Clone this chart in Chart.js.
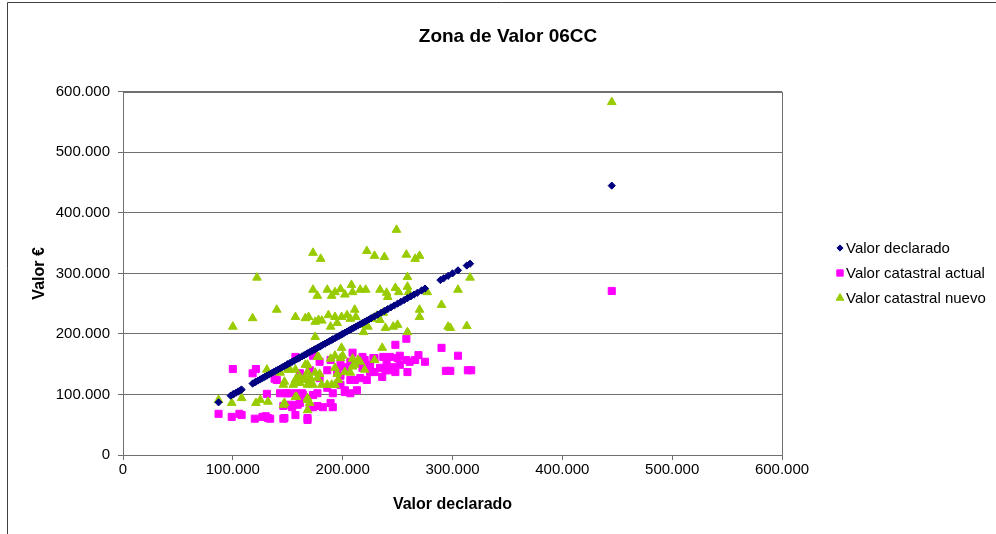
<!DOCTYPE html>
<html><head><meta charset="utf-8">
<script src="https://cdn.jsdelivr.net/npm/chart.js@4.4.1/dist/chart.umd.min.js"></script>
<style>html,body{margin:0;padding:0;background:#fff}canvas{display:block}</style>
</head><body>
<canvas id="c" width="996" height="534"></canvas>
<script>
const titleText = 'Zona de Valor 06CC';
const xAxisTitle = 'Valor declarado';
const yAxisTitle = 'Valor €';
const seriesNames = ['Valor declarado', 'Valor catastral actual', 'Valor catastral nuevo'];
const tickValues = [0, 100000, 200000, 300000, 400000, 500000, 600000];

// Valor declarado (plotted against itself)
const declarado = [87000, 98000, 100000, 101000, 103000, 105000, 107000, 108000, 118000, 120000, 121000, 123000,
  125000, 127000, 129000, 131000, 133000, 135000, 137000, 139000, 141000, 143000, 145000, 147000, 149000,
  150000, 152000, 154000, 156000, 158000, 160000, 161000, 163000, 165000, 167000, 168000, 170000, 172000,
  174000, 175000, 177000, 179000, 180000, 182000, 184000, 186000, 188000, 190000, 191000, 193000, 195000,
  197000, 199000, 200000, 202000, 204000, 206000, 208000, 210000, 212000, 214000, 216000, 218000, 220000,
  222000, 224000, 226000, 229000, 232000, 235000, 238000, 241000, 244000, 247000, 250000, 253000, 256000,
  259000, 262000, 265000, 268000, 272000, 275000, 289000, 292000, 296000, 300000, 305000, 313000, 316000, 445000];

// Valor catastral actual
const actualX = [87000, 100000, 99000, 106000, 121000, 118000, 120000, 127000, 131000, 134000, 140000, 143000,
  146000, 146000, 150000, 157000, 157000, 157000, 173000, 138000, 164000, 173000, 154000, 159000, 170000,
  108000, 130000, 132000, 147000, 168000, 173000, 179000, 209000, 213000, 218000, 228000, 237000, 240000,
  250000, 248000, 258000, 258000, 269000, 275000, 290000, 305000, 298000, 294000, 314000, 317000, 161000,
  170000, 186000, 195000, 202000, 218000, 222000, 211000, 234000, 236000, 246000, 259000, 149000, 163000,
  177000, 191000, 202000, 213000, 152000, 161000, 173000, 182000, 191000, 168000, 189000, 198000, 207000,
  225000, 229000, 243000, 252000, 266000, 179000, 198000, 207000, 189000, 177000,
  220000, 229000, 243000, 252000, 261000, 248000, 239000, 225000, 216000, 207000, 198000, 186000, 202000, 445000];
const actualY = [68000, 142000, 63000, 68000, 142000, 135000, 60000, 63000, 101000, 60000, 124000, 102000,
  81000, 60000, 102000, 162000, 102000, 66000, 169000, 126000, 99000, 99000, 79000, 83000, 79000,
  66000, 64000, 61000, 61000, 58000, 164000, 154000, 169000, 154000, 162000, 160000, 162000, 152000,
  160000, 182000, 192000, 157000, 165000, 154000, 177000, 164000, 139000, 139000, 140000, 140000, 135000,
  140000, 140000, 137000, 145000, 144000, 124000, 124000, 144000, 129000, 145000, 137000, 102000, 102000,
  102000, 102000, 107000, 107000, 83000, 86000, 79000, 79000, 79000, 61000, 157000, 149000, 154000,
  149000, 137000, 140000, 149000, 157000, 127000, 131000, 102000, 86000, 81000,
  157000, 160000, 162000, 164000, 154000, 137000, 140000, 137000, 127000, 124000, 116000, 111000, 104000, 271000];

// Valor catastral nuevo
const nuevoX = [122000, 140000, 118000, 100000, 157000, 87000, 99000, 108000, 121000, 125000, 132000, 131000,
  143000, 147000, 147000, 157000, 157000, 166000, 169000, 175000, 175000, 146000, 150000, 158000, 168000,
  168000, 166000, 170000, 177000, 157000, 168000, 168000, 177000, 249000, 173000, 180000, 222000, 229000,
  238000, 258000, 266000, 270000, 173000, 177000, 186000, 190000, 193000, 198000, 202000, 208000, 209000,
  216000, 221000, 234000, 240000, 241000, 248000, 251000, 259000, 260000, 259000, 277000, 316000, 305000,
  290000, 270000, 270000, 296000, 298000, 313000, 178000, 181000, 187000, 189000, 193000, 195000, 199000,
  204000, 207000, 211000, 212000, 218000, 219000, 223000, 227000, 231000, 234000, 237000, 239000, 246000,
  250000, 259000, 178000, 189000, 193000, 198000, 200000, 209000, 214000, 193000, 195000, 207000, 199000,
  236000, 152000, 161000, 166000, 170000, 175000, 179000, 146000, 155000, 161000, 164000, 168000, 173000,
  181000, 186000, 190000, 193000, 158000, 168000, 170000, 216000, 209000,
  202000, 211000, 220000, 229000, 196000, 445000];
const nuevoY = [293000, 240000, 226000, 212000, 228000, 91000, 86000, 94000, 86000, 91000, 88000, 141000,
  136000, 121000, 86000, 141000, 124000, 226000, 228000, 220000, 195000, 83000, 141000, 127000, 149000,
  137000, 127000, 121000, 127000, 96000, 91000, 74000, 162000, 372000, 334000, 324000, 337000, 329000,
  327000, 331000, 324000, 329000, 273000, 263000, 273000, 263000, 269000, 274000, 265000, 281000, 269000,
  273000, 273000, 273000, 268000, 261000, 276000, 269000, 278000, 269000, 294000, 269000, 293000, 273000,
  248000, 240000, 228000, 212000, 210000, 213000, 223000, 222000, 231000, 212000, 228000, 218000, 228000,
  231000, 225000, 240000, 228000, 215000, 203000, 212000, 225000, 230000, 223000, 235000, 210000, 212000,
  215000, 203000, 162000, 159000, 164000, 160000, 164000, 159000, 157000, 144000, 134000, 136000, 177000,
  177000, 141000, 129000, 149000, 129000, 136000, 134000, 116000, 116000, 119000, 124000, 116000, 116000,
  116000, 116000, 116000, 116000, 96000, 94000, 86000, 154000, 146000,
  137000, 149000, 141000, 157000, 124000, 583000];

const colors = { declarado: '#000080', actual: '#FF00FF', nuevo: '#99CC00' };
const FONT = "'Liberation Sans', Arial, Helvetica, sans-serif";
const fmt = v => String(v).replace(/\B(?=(\d{3})+(?!\d))/g, '.');
const pairs = (xs, ys) => xs.map((x, i) => ({ x: x, y: ys[i] }));

const dsDeclarado = { label: seriesNames[0], data: declarado.map(v => ({ x: v, y: v })),
  pointStyle: 'rectRot', pointRadius: 3.6, backgroundColor: colors.declarado, borderColor: colors.declarado, borderWidth: 1 };
const dsActual = { label: seriesNames[1], data: pairs(actualX, actualY),
  pointStyle: 'rect', pointRadius: 5, backgroundColor: colors.actual, borderColor: colors.actual, borderWidth: 1 };
const dsNuevo = { label: seriesNames[2], data: pairs(nuevoX, nuevoY),
  pointStyle: 'triangle', pointRadius: 5, backgroundColor: colors.nuevo, borderColor: colors.nuevo, borderWidth: 1 };

const legendOrder = [dsDeclarado, dsActual, dsNuevo];

const framePlugin = {
  id: 'frame',
  beforeDraw(chart) {
    const ctx = chart.ctx;
    ctx.save(); ctx.fillStyle = '#fff'; ctx.fillRect(0, 0, chart.width, chart.height); ctx.restore();
  },
  afterDraw(chart) {
    const ctx = chart.ctx, a = chart.chartArea;
    ctx.save();
    ctx.strokeStyle = '#707070'; ctx.lineWidth = 1;
    ctx.strokeRect(Math.round(a.left) + 0.5, Math.round(a.top) + 0.5, Math.round(a.right - a.left), Math.round(a.bottom - a.top));
    ctx.strokeStyle = '#404040';
    ctx.beginPath(); ctx.moveTo(7.5, chart.height); ctx.lineTo(7.5, 2.5); ctx.lineTo(chart.width, 2.5); ctx.stroke();
    // legend
    const lx = a.right + 58, ly0 = 248;
    ctx.font = '15px ' + FONT; ctx.textBaseline = 'middle'; ctx.textAlign = 'left';
    legendOrder.forEach((ds, i) => {
      const y = ly0 + i * 25;
      ctx.fillStyle = ds.backgroundColor; ctx.strokeStyle = ds.borderColor; ctx.lineWidth = 1;
      Chart.helpers.drawPoint(ctx, { pointStyle: ds.pointStyle, radius: ds.pointRadius - 0.5, borderWidth: 1, rotation: 0 }, lx, y);
      ctx.fillStyle = '#000';
      ctx.fillText(ds.label, lx + 6, y + 1);
    });
    ctx.restore();
  }
};

new Chart(document.getElementById('c'), {
  type: 'scatter',
  data: { datasets: [dsDeclarado, dsNuevo, dsActual] },
  options: {
    responsive: false, animation: false, events: [],
    layout: { padding: { left: 20, right: 0, top: 0, bottom: 0 } },
    plugins: {
      legend: { display: false }, tooltip: { enabled: false },
      title: { display: true, text: titleText, color: '#000',
        font: { family: FONT, size: 19, weight: 'bold' }, padding: { top: 25, bottom: 44 } }
    },
    scales: {
      x: { type: 'linear', position: 'bottom', min: 0, max: 600000,
        afterBuildTicks: s => { s.ticks = tickValues.map(v => ({ value: v })); },
        afterFit: s => { s.height = 79; },
        grid: { drawOnChartArea: false, drawTicks: true, tickLength: 5, color: '#707070' },
        border: { display: true, color: '#707070' },
        ticks: { color: '#000', font: { family: FONT, size: 15 }, padding: 1, maxRotation: 0, callback: v => fmt(v) },
        title: { display: true, text: xAxisTitle, color: '#000', font: { family: FONT, size: 16, weight: 'bold' }, padding: { top: 20, bottom: 20 } }
      },
      y: { type: 'linear', position: 'left', min: 0, max: 600000,
        afterBuildTicks: s => { s.ticks = tickValues.map(v => ({ value: v })); },
        afterFit: s => { s.width = 103; },
        grid: { drawTicks: true, tickLength: 5, color: '#707070' },
        border: { display: true, color: '#707070' },
        ticks: { color: '#000', font: { family: FONT, size: 15 }, padding: 8, callback: v => fmt(v) },
        title: { display: true, text: yAxisTitle, color: '#000', font: { family: FONT, size: 16, weight: 'bold' }, padding: { top: 10, bottom: 10 } }
      },
      pad: { type: 'linear', position: 'right', display: true,
        afterFit: s => { s.width = 214; },
        grid: { display: false }, border: { display: false }, ticks: { display: false } }
    }
  },
  plugins: [framePlugin]
});
</script>
</body></html>
